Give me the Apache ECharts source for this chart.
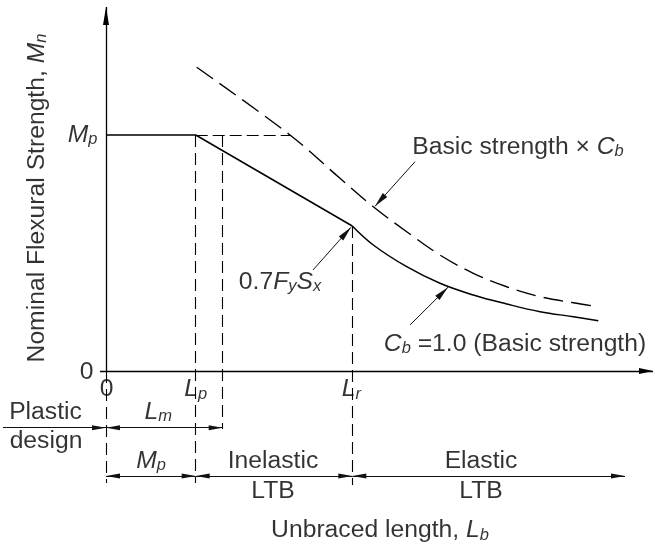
<!DOCTYPE html>
<html>
<head>
<meta charset="utf-8">
<script src="https://cdn.jsdelivr.net/npm/echarts@6/dist/echarts.min.js"></script>
<style>html,body{margin:0;padding:0;background:#fff}#c{width:655px;height:546px}</style>
</head>
<body>
<div id="c"></div>
<script>
// ---- Data (x: unbraced length, arbitrary units; y: strength, % of Mp) ----
const Lp = 8.97, Lm = 11.67, Lr = 24.63, Mp = 100;
const solidInelastic = [[0, 100], [8.97, 100], [24.63, 61.44]];
const solidElastic = [[24.63, 61.44], [26.73, 53.39], [30.07, 44.19], [33.4, 37.16], [36.73, 32.2],
                      [40.07, 28.39], [43.4, 25.13], [46.73, 23.0], [49.23, 21.31]];
const dashedCb = [[9.07, 128.7], [18.4, 100], [23.4, 81.65], [26.73, 69.6], [30.07, 59.0],
                  [33.4, 49.15], [36.73, 41.4], [40.07, 35.7], [43.4, 31.5], [46.73, 28.9], [49.23, 27.25]];
const yTickLabels = ['{r|0}', '{i|M}{s|p}'];
const xTickLabels = ['{r|0}', '{i|L}{s|p}', '{i|L}{s|r}'];

// ---- Layout of the view (axis extents) ----
const xMin = -10.6, xMax = 54.9, yMin = -74.15, yMax = 157.2;
const FONT = "'Liberation Sans', Arial, Helvetica, sans-serif";

// annotation texts: [x, y, text, rotate]
const texts = [
  [-6.9, 73.3, '{r|Nominal Flexural Strength, }{i|M}{s|n}', 90],
  [-2.35, Mp, yTickLabels[1], 0],
  [-1.95, -0.42, yTickLabels[0], 0],
  [0.05, -7.84, xTickLabels[0], 0],
  [Lp, -7.84, xTickLabels[1], 0],
  [Lr - 0.1, -7.84, xTickLabels[2], 0],
  [-6.05, -17.25, '{r|Plastic}', 0],
  [-6.0, -29.6, '{r|design}', 0],
  [5.23, -17.25, '{i|L}{s|m}', 0],
  [4.5, -38.05, '{i|M}{s|p}', 0],
  [16.7, -38.05, '{r|Inelastic}', 0],
  [16.7, -50.8, '{r|LTB}', 0],
  [37.5, -38.05, '{r|Elastic}', 0],
  [37.5, -50.8, '{r|LTB}', 0],
  [27.4, -67.6, '{r|Unbraced length, }{i|L}{s|b}', 0],
  [17.4, 37.6, '{r|0.7}{i|F}{s|y}{i|S}{s|x}', 0],
  [40.9, 11.57, '{i|C}{s|b}{r| =1.0 (Basic strength)}', 0],
  [41.2, 95.0, '{r|Basic strength × }{i|C}{s|b}', 0]
];

const rich = {
  r: {fontSize: 24.7, fontFamily: FONT, color: '#000', lineHeight: 26},
  i: {fontSize: 24.7, fontFamily: FONT, fontStyle: 'italic', color: '#000', lineHeight: 26},
  s: {fontSize: 16.5, fontFamily: FONT, fontStyle: 'italic', color: '#000', lineHeight: 17, verticalAlign: 'bottom'}
};

const rowA = -24.03, rowB = -44.49, dimBottom = -47.5;
function seg(p1, p2, a1, a2, size, lineStyle) {
  return [
    {coord: p1, symbol: a1 ? 'triangle' : 'none', symbolSize: size, symbolOffset: [0, '50%']},
    {coord: p2, symbol: a2 ? 'triangle' : 'none', symbolSize: size, symbolOffset: [0, '50%'], lineStyle: lineStyle}
  ];
}
const axisStyle = {color: '#000', width: 1.3, type: 'solid'};
const dimStyle = {color: '#111', width: 1, type: 'solid'};
const refDash = {color: '#000', width: 1.1, type: [12, 6]};
const markLines = [
  seg([0, -0.3], [0, 154.2], false, true, [6, 18], axisStyle),
  seg([-0.6, 0], [54.7, 0], false, true, [6, 14], axisStyle),
  seg([0, 0], [0, dimBottom], false, false, 1, refDash),
  seg([Lp, Mp], [Lp, dimBottom], false, false, 1, refDash),
  seg([Lm, Mp], [Lm, -24.6], false, false, 1, refDash),
  seg([Lr, 61.44], [Lr, -48.3], false, false, 1, refDash),
  seg([Lp, Mp], [18.4, Mp], false, false, 1, {color: '#000', width: 1.1, type: [12, 5]}),
  seg([-10.3, rowA], [0, rowA], false, true, [5, 14], dimStyle),
  seg([0, rowA], [Lm, rowA], true, true, [5, 14], dimStyle),
  seg([0, rowB], [Lp, rowB], true, true, [5, 14], dimStyle),
  seg([Lp, rowB], [Lr, rowB], true, true, [5, 14], dimStyle),
  seg([Lr, rowB], [51.9, rowB], true, true, [5, 14], dimStyle),
  seg([30.9, 88.68], [26.9, 69.8], false, true, [6, 15], dimStyle),
  seg([30.4, 19.5], [34.2, 35.5], false, true, [6, 15], dimStyle),
  seg([20.7, 42.8], [24.5, 60.9], false, true, [6, 15], dimStyle)
];

const chart = echarts.init(document.getElementById('c'), null, {renderer: 'canvas'});
chart.setOption({
  animation: false,
  backgroundColor: '#fff',
  color: ['#000'],
  grid: {left: 0, right: 0, top: 0, bottom: 0},
  xAxis: {type: 'value', min: xMin, max: xMax, show: false},
  yAxis: {type: 'value', min: yMin, max: yMax, show: false},
  series: [
    {
      type: 'line', data: solidInelastic, symbol: 'none', silent: true,
      lineStyle: {color: '#000', width: 1.5},
      markLine: {
        silent: true, animation: false,
        label: {show: false}, emphasis: {disabled: true},
        itemStyle: {color: '#000'},
        data: markLines
      }
    },
    {
      type: 'line', data: solidElastic, symbol: 'none', silent: true, smooth: 0.4,
      lineStyle: {color: '#000', width: 1.5}
    },
    {
      type: 'line', data: dashedCb, symbol: 'none', silent: true, smooth: 0.35,
      lineStyle: {color: '#000', width: 1.4, type: [20, 8]}
    },
    {
      type: 'scatter', symbolSize: 0, silent: true, clip: false,
      data: texts.map(t => ({
        value: [t[0], t[1]],
        label: {show: true, position: 'inside', formatter: t[2], rotate: t[3], rich: rich}
      }))
    }
  ]
});
</script>
</body>
</html>
